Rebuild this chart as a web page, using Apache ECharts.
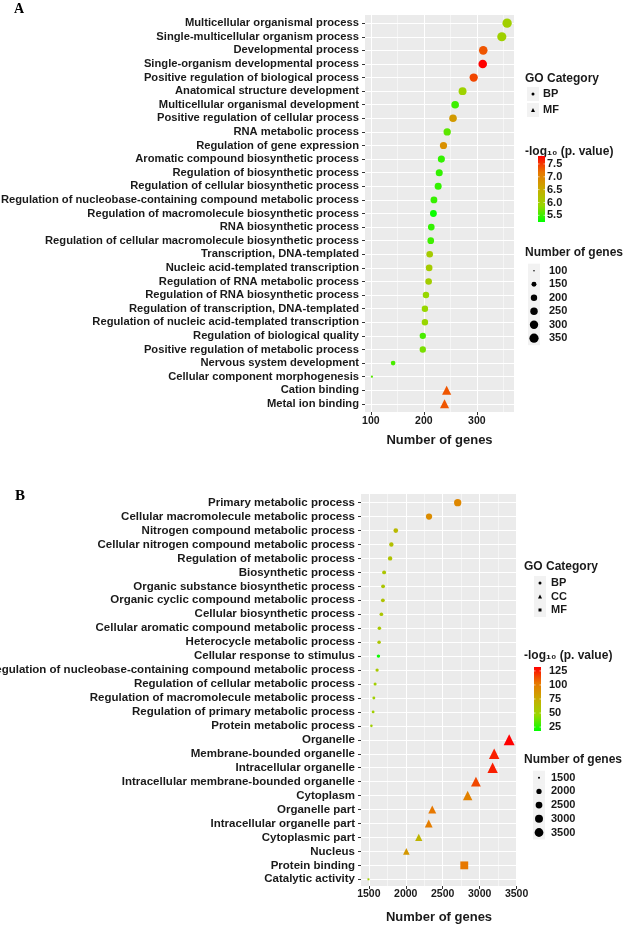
<!DOCTYPE html>
<html><head><meta charset="utf-8">
<script src="https://cdn.jsdelivr.net/npm/echarts@6/dist/echarts.min.js"></script>
<style>html,body{margin:0;padding:0;background:#fff}#c{width:625px;height:927px}</style>
</head><body><div id="c"></div>
<script>
// ---------- Panel A data ----------
const catsA = [
'Multicellular organismal process',
'Single-multicellular organism process',
'Developmental process',
'Single-organism developmental process',
'Positive regulation of biological process',
'Anatomical structure development',
'Multicellular organismal development',
'Positive regulation of cellular process',
'RNA metabolic process',
'Regulation of gene expression',
'Aromatic compound biosynthetic process',
'Regulation of biosynthetic process',
'Regulation of cellular biosynthetic process',
'Regulation of nucleobase-containing compound metabolic process',
'Regulation of macromolecule biosynthetic process',
'RNA biosynthetic process',
'Regulation of cellular macromolecule biosynthetic process',
'Transcription, DNA-templated',
'Nucleic acid-templated transcription',
'Regulation of RNA metabolic process',
'Regulation of RNA biosynthetic process',
'Regulation of transcription, DNA-templated',
'Regulation of nucleic acid-templated transcription',
'Regulation of biological quality',
'Positive regulation of metabolic process',
'Nervous system development',
'Cellular component morphogenesis',
'Cation binding',
'Metal ion binding'];
const genesA = [357,347,312,311,294,273,259,255,244,237,233,229,227,219,218,214,213,211,210,209,204,202,202,198,198,142,102,243,239];
const logpA = [6.0,5.98,7.35,7.81,7.43,5.96,5.5,6.73,5.63,6.86,5.45,5.45,5.45,5.47,5.28,5.45,5.5,6.06,6.06,6.03,5.88,5.88,5.9,5.55,5.75,5.55,5.6,7.35,7.35];
const typeA = ['BP','BP','BP','BP','BP','BP','BP','BP','BP','BP','BP','BP','BP','BP','BP','BP','BP','BP','BP','BP','BP','BP','BP','BP','BP','BP','BP','MF','MF'];
const ticksA = [100,200,300];
const minorA = [150,250,350];
const colorBreaksA = [5.5,6.0,6.5,7.0,7.5];
const sizeBreaksA = [100,150,200,250,300,350];

// ---------- Panel B data ----------
const catsB = [
'Primary metabolic process',
'Cellular macromolecule metabolic process',
'Nitrogen compound metabolic process',
'Cellular nitrogen compound metabolic process',
'Regulation of metabolic process',
'Biosynthetic process',
'Organic substance biosynthetic process',
'Organic cyclic compound metabolic process',
'Cellular biosynthetic process',
'Cellular aromatic compound metabolic process',
'Heterocycle metabolic process',
'Cellular response to stimulus',
'Regulation of nucleobase-containing compound metabolic process',
'Regulation of cellular metabolic process',
'Regulation of macromolecule metabolic process',
'Regulation of primary metabolic process',
'Protein metabolic process',
'Organelle',
'Membrane-bounded organelle',
'Intracellular organelle',
'Intracellular membrane-bounded organelle',
'Cytoplasm',
'Organelle part',
'Intracellular organelle part',
'Cytoplasmic part',
'Nucleus',
'Protein binding',
'Catalytic activity'];
const genesB = [2703,2315,1865,1805,1788,1707,1693,1690,1670,1643,1639,1630,1612,1585,1568,1558,1535,3400,3197,3176,2950,2838,2359,2311,2176,2008,2792,1495];
const logpB = [95,92,66,62,60,58,58,60,58,56,58,20,56,52,52,52,52,132,124,125,115,98,103,100,69,86,103,52];
const typeB = ['BP','BP','BP','BP','BP','BP','BP','BP','BP','BP','BP','BP','BP','BP','BP','BP','BP','CC','CC','CC','CC','CC','CC','CC','CC','CC','MF','MF'];
const ticksB = [1500,2000,2500,3000,3500];
const minorB = [1750,2250,2750,3250];
const colorBreaksB = [25,50,75,100,125];
const sizeBreaksB = [1500,2000,2500,3000,3500];

// ---------- styling / helpers ----------
const FONT = '"Liberation Sans", Arial, Helvetica, sans-serif';
const INK = '#1a1a1a';
const GRAD = ['#00ff00','#98d700','#c8ab00','#e87700','#ff0000'];
const limColA = [5.24, 7.81], limColB = [18, 132];
const limSizeA = [100, 357], limSizeB = [1490, 3400];
const shapeMult = {circle:1, triangle:1.25, rect:1.05};
const shapesA = {BP:'circle', MF:'triangle'};
const shapesB = {BP:'circle', CC:'triangle', MF:'rect'};

function sizeFn(lim, unit){
  return v => unit*(1+5*Math.sqrt(Math.max(0,Math.min(1,(v-lim[0])/(lim[1]-lim[0])))));
}
const sizeA = sizeFn(limSizeA, 1.55);
const sizeB = sizeFn(limSizeB, 1.46);

function buildSeries(cats, genes, logp, types, shapes, sizeF, xIdx, yIdx){
  const out = [];
  Object.keys(shapes).forEach(t => {
    const data = [];
    cats.forEach((c,i)=>{ if(types[i]===t) data.push([genes[i], i, logp[i], c]); });
    const sym = shapes[t];
    out.push({type:'scatter', name:t, xAxisIndex:xIdx, yAxisIndex:yIdx, symbol:sym,
      symbolSize: d => sizeF(d[0])*shapeMult[sym], data,
      itemStyle:{opacity:1}, emphasis:{disabled:true}, silent:true, z:3});
  });
  return out;
}
const seriesA = buildSeries(catsA, genesA, logpA, typeA, shapesA, sizeA, 0, 0);
const seriesB = buildSeries(catsB, genesB, logpB, typeB, shapesB, sizeB, 2, 1);

const idxA = catsA.map((_,i)=>i), idxB = catsB.map((_,i)=>i);

function xMajor(grid, min, max, ticks, margin, gap){
  return {gridIndex:grid, type:'value', min, max, position:'bottom', axisLine:{show:false, onZero:false},
    axisTick:{customValues:ticks, length:3, lineStyle:{color:'#333'}},
    axisLabel:{customValues:ticks, formatter: v => String(v), margin, fontSize:10.5, fontWeight:'bold', color:INK, fontFamily:FONT},
    splitLine:{show:true, lineStyle:{color:'#ffffff', width:1}},
    name:'Number of genes', nameLocation:'middle', nameGap:gap,
    nameTextStyle:{fontSize:13, fontWeight:'bold', color:INK, fontFamily:FONT}};
}
function xMinor(grid, min, max, ticks){
  return {gridIndex:grid, type:'value', min, max, position:'top', axisLine:{show:false, onZero:false},
    axisTick:{show:false, customValues:ticks}, axisLabel:{show:false},
    splitLine:{show:true, lineStyle:{color:'#ffffff', width:0.5}}};
}
function yCat(grid, cats, idx, min, max, fs){
  return {gridIndex:grid, type:'value', inverse:true, min, max, axisLine:{show:false, onZero:false},
    axisTick:{customValues:idx, length:3, lineStyle:{color:'#333'}},
    axisLabel:{customValues:idx, formatter: v => cats[v], margin:6, fontSize:fs, fontWeight:'bold', color:INK, fontFamily:FONT},
    splitLine:{show:true, lineStyle:{color:'#ffffff', width:1}}};
}

// ---------- legends (graphic) ----------
const G = [];
function txt(x,y,s,size,opt){
  G.push(Object.assign({type:'text', x, y, silent:true,
    style:{text:s, font:'bold '+size+'px '+FONT, fill:INK, textAlign:'left', textVerticalAlign:'middle'}}, opt||{}));
}
function keyBg(cx,cy){
  G.push({type:'rect', silent:true, shape:{x:cx-6, y:cy-7, width:12, height:14}, style:{fill:'#f2f2f2'}});
}
function sym(shape, cx, cy, d){
  if(shape==='circle') G.push({type:'circle', silent:true, shape:{cx, cy, r:d/2}, style:{fill:'#000'}});
  else if(shape==='triangle') G.push({type:'polygon', silent:true, shape:{points:[[cx,cy-d/2],[cx+d/2,cy+d/2],[cx-d/2,cy+d/2]]}, style:{fill:'#000'}});
  else G.push({type:'rect', silent:true, shape:{x:cx-d/2, y:cy-d/2, width:d, height:d}, style:{fill:'#000'}});
}
function colorbar(x, y0, w, h, lim, breaks, labelX, fmt){
  G.push({type:'rect', silent:true, shape:{x, y:y0, width:w, height:h},
    style:{fill:new echarts.graphic.LinearGradient(0,1,0,0, GRAD.map((c,i)=>({offset:i/(GRAD.length-1), color:c})))}});
  breaks.forEach(b=>{
    const y = y0 + h - (b-lim[0])/(lim[1]-lim[0])*h;
    G.push({type:'line', silent:true, shape:{x1:x, y1:y, x2:x+1.5, y2:y}, style:{stroke:'#fff', lineWidth:0.6}});
    G.push({type:'line', silent:true, shape:{x1:x+w-1.5, y1:y, x2:x+w, y2:y}, style:{stroke:'#fff', lineWidth:0.6}});
    txt(labelX, y, fmt(b), 11);
  });
}
// Panel letters
G.push({type:'text', x:14, y:2, silent:true, style:{text:'A', font:'bold 14px "Liberation Serif", "Times New Roman", serif', fill:'#000', textVerticalAlign:'top'}});
G.push({type:'text', x:15, y:489, silent:true, style:{text:'B', font:'bold 15px "Liberation Serif", "Times New Roman", serif', fill:'#000', textVerticalAlign:'top'}});

// Legend A
txt(525, 79, 'GO Category', 12);
Object.keys(shapesA).forEach((t,i)=>{
  const cy = 94 + i*16;
  keyBg(533, cy); sym(shapesA[t], 533, cy, shapesA[t]==='circle'?3:4); txt(543, cy, t, 11);
});
txt(525, 152, '-log\u2081\u2080 (p. value)', 12);
colorbar(538, 156, 7, 66, limColA, colorBreaksA, 547, b=>b.toFixed(1));
txt(525, 253, 'Number of genes', 12);
sizeBreaksA.forEach((b,i)=>{
  const cy = 270.7 + i*13.5;
  keyBg(534, cy); sym('circle', 534, cy, sizeA(b)); txt(549, cy, String(b), 11);
});

// Legend B
txt(524, 567, 'GO Category', 12);
Object.keys(shapesB).forEach((t,i)=>{
  const cy = 583 + i*13.5;
  keyBg(540, cy); sym(shapesB[t], 540, cy, shapesB[t]==='triangle'?4:3); txt(551, cy, t, 11);
});
txt(524, 656, '-log\u2081\u2080 (p. value)', 12);
colorbar(534, 667, 7, 64, limColB, colorBreaksB, 549, b=>String(b));
txt(524, 760, 'Number of genes', 12);
sizeBreaksB.forEach((b,i)=>{
  const cy = 777.7 + i*13.7;
  keyBg(539, cy); sym('circle', 539, cy, sizeB(b)); txt(551, cy, String(b), 11);
});

const option = {
  animation:false,
  backgroundColor:'#ffffff',
  grid:[
    {left:365, top:15, width:149, height:397, show:true, backgroundColor:'#ebebeb', borderWidth:0, containLabel:false, outerBoundsMode:'none'},
    {left:361, top:494, width:156, height:392, show:true, backgroundColor:'#ebebeb', borderWidth:0, containLabel:false, outerBoundsMode:'none'}
  ],
  xAxis:[
    xMajor(0, 89, 370, ticksA, 4, 22),
    xMinor(0, 89, 370, minorA),
    xMajor(1, 1394, 3506, ticksB, 3, 25),
    xMinor(1, 1394, 3506, minorB)
  ],
  yAxis:[
    yCat(0, catsA, idxA, -0.6, catsA.length-1+0.6, 11.2),
    yCat(1, catsB, idxB, -0.62, catsB.length-1+0.48, 11.5)
  ],
  visualMap:[
    {type:'continuous', show:false, seriesIndex:[0,1], dimension:2, min:limColA[0], max:limColA[1], inRange:{color:GRAD}},
    {type:'continuous', show:false, seriesIndex:[2,3,4], dimension:2, min:limColB[0], max:limColB[1], inRange:{color:GRAD}}
  ],
  series: seriesA.concat(seriesB),
  graphic:{elements:G}
};
const chart = echarts.init(document.getElementById('c'), null, {renderer:'canvas'});
chart.setOption(option);
</script>
</body></html>
